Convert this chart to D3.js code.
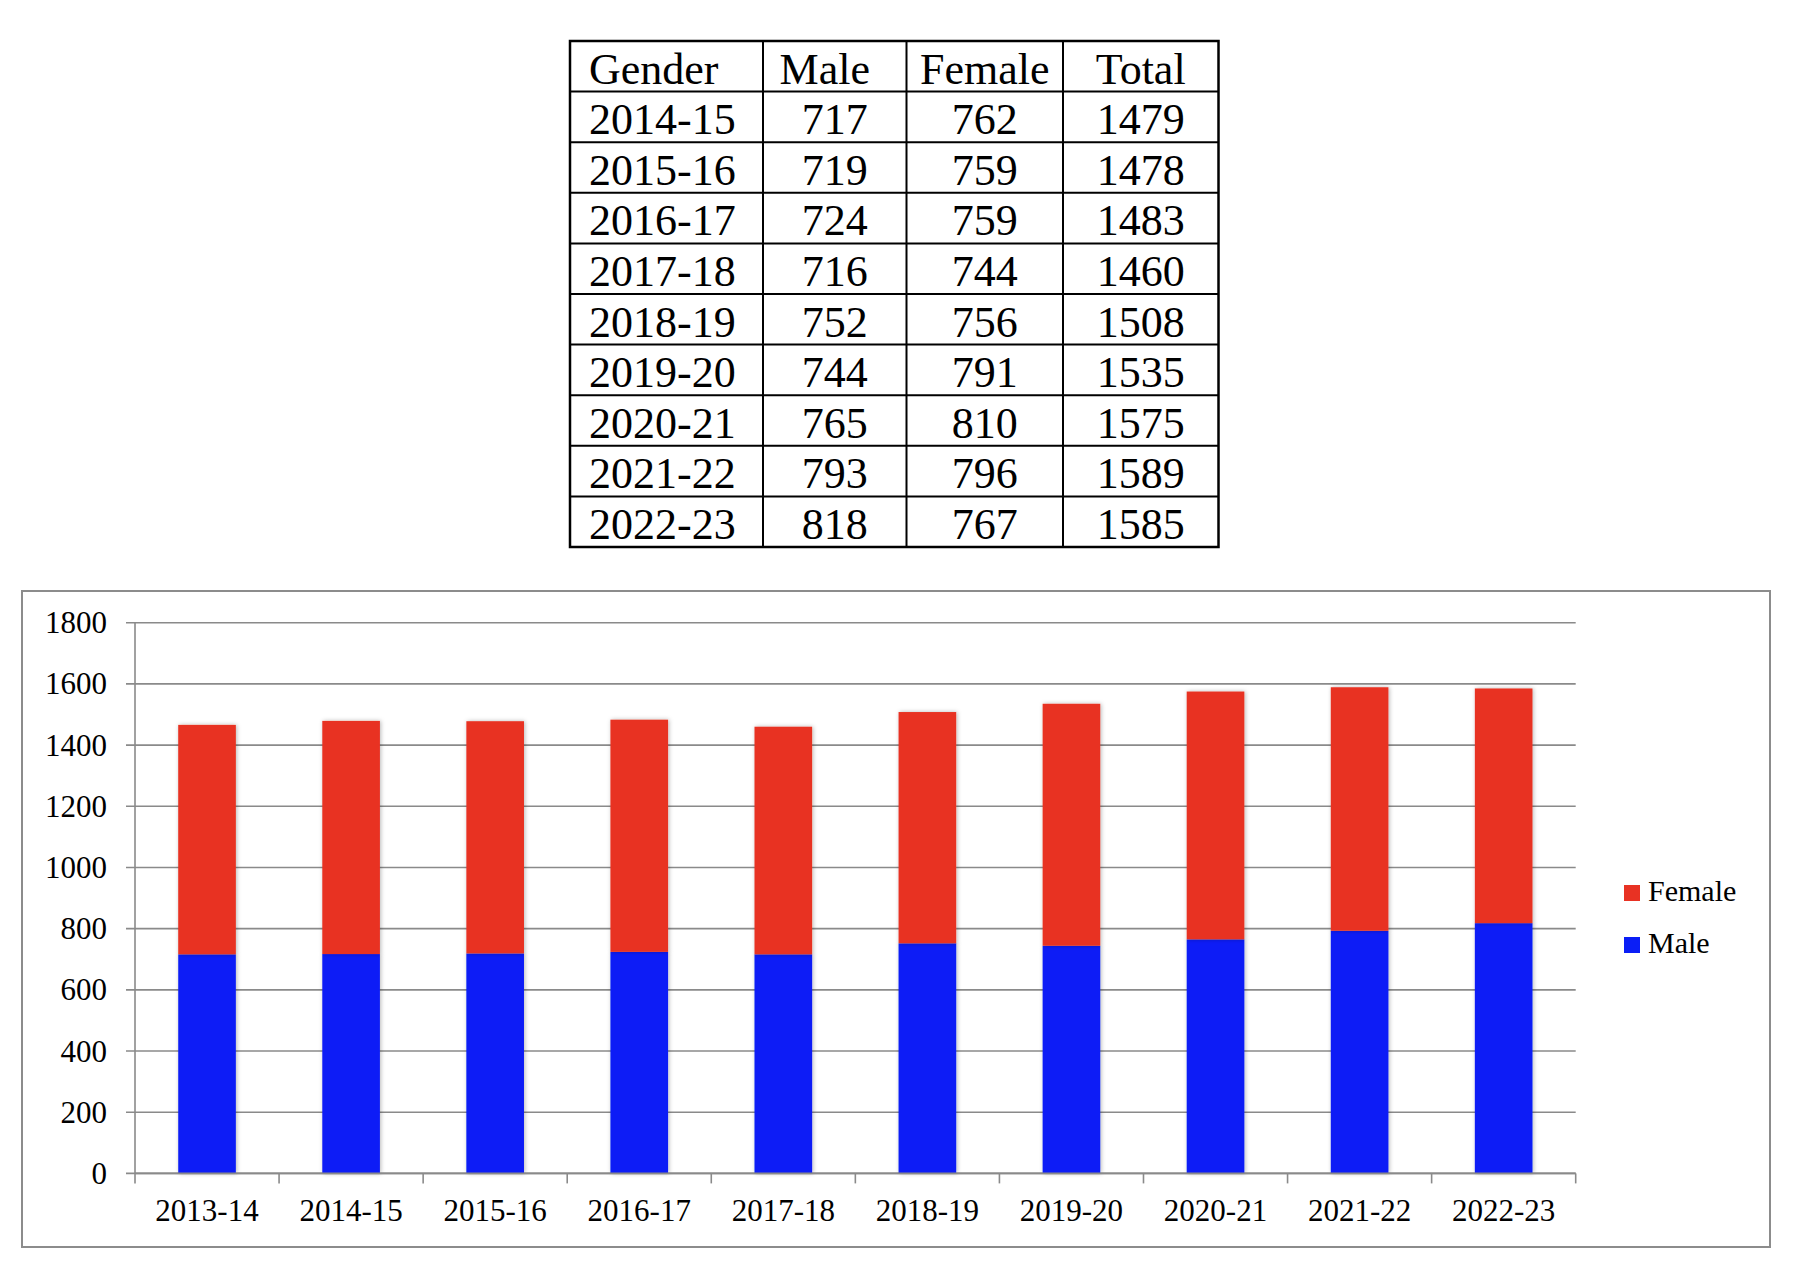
<!DOCTYPE html>
<html>
<head>
<meta charset="utf-8">
<script src="https://cdn.jsdelivr.net/npm/d3@7"></script>
<style>
  html, body { margin: 0; padding: 0; background: #fff; }
  svg { display: block; }
  text { font-family: "Liberation Serif", "DejaVu Serif", serif; fill: #000; }
</style>
</head>
<body>
<div id="chart"></div>
<script>
// 数据
const years = ['2013-14', '2014-15', '2015-16', '2016-17', '2017-18', '2018-19', '2019-20', '2020-21', '2021-22', '2022-23'];
const maleValues = [716, 717, 719, 724, 716, 752, 744, 765, 793, 818];
const femaleValues = [750, 762, 759, 759, 744, 756, 791, 810, 796, 767];
const tableHeader = ['Gender', 'Male', 'Female', 'Total'];
const tableYears = years.slice(1);
const yTicks = [0, 200, 400, 600, 800, 1000, 1200, 1400, 1600, 1800];
const seriesNames = ['Female', 'Male'];
const colors = { Male: '#0a1ef6', Female: '#e83223' };

const W = 1810, H = 1264;
const svg = d3.select('#chart').append('svg')
    .attr('width', W)
    .attr('height', H);

// 阴影
const defs = svg.append('defs');
defs.append('filter')
    .attr('id', 'shadow')
    .attr('x', '-20%').attr('y', '-5%')
    .attr('width', '140%').attr('height', '110%')
    .append('feDropShadow')
    .attr('dx', 1).attr('dy', 0)
    .attr('stdDeviation', 2.2)
    .attr('flood-color', '#000')
    .attr('flood-opacity', 0.28);

// ---------- 表格 ----------
const tableRows = tableYears.map((yr, i) => {
    const m = maleValues[i + 1], f = femaleValues[i + 1];
    return [yr, m, f, m + f];
});
const colEdges = [570, 763, 906.5, 1063, 1218.5];
const rowScale = d3.scaleBand()
    .domain(d3.range(tableRows.length + 1))
    .range([41, 547]);
const rh = rowScale.bandwidth();

const table = svg.append('g').attr('class', 'table');

// 网格线
table.selectAll('line.h')
    .data(d3.range(1, tableRows.length + 1))
    .enter().append('line')
    .attr('x1', colEdges[0]).attr('x2', colEdges[4])
    .attr('y1', d => rowScale(d)).attr('y2', d => rowScale(d))
    .attr('stroke', '#000').attr('stroke-width', 2);
table.selectAll('line.v')
    .data(colEdges.slice(1, 4))
    .enter().append('line')
    .attr('x1', d => d).attr('x2', d => d)
    .attr('y1', 41).attr('y2', 547)
    .attr('stroke', '#000').attr('stroke-width', 2);
table.append('rect')
    .attr('x', colEdges[0]).attr('y', 41)
    .attr('width', colEdges[4] - colEdges[0]).attr('height', 547 - 41)
    .attr('fill', 'none').attr('stroke', '#000').attr('stroke-width', 2.5);

const cellX = (c) => c === 0 ? colEdges[0] + 19 : (colEdges[c] + colEdges[c + 1]) / 2;
const cellAnchor = (c) => c === 0 ? 'start' : 'middle';

[tableHeader].concat(tableRows).forEach((row, r) => {
    table.selectAll(null)
        .data(row)
        .enter().append('text')
        .attr('x', (d, c) => cellX(c) + (r === 0 && c === 1 ? -10 : 0))
        .attr('y', rowScale(r) + rh * 0.84)
        .attr('text-anchor', (d, c) => cellAnchor(c))
        .attr('font-size', 44)
        .text(d => d);
});

// ---------- 图表 ----------
svg.append('rect')
    .attr('x', 22).attr('y', 591)
    .attr('width', 1770 - 22).attr('height', 1247 - 591)
    .attr('fill', '#fff')
    .attr('stroke', '#8c8c8c').attr('stroke-width', 2);

const plot = { left: 135, right: 1575.7, top: 622.7, bottom: 1173.4 };

const x = d3.scaleBand()
    .domain(years)
    .range([plot.left, plot.right])
    .paddingInner(0.6)
    .paddingOuter(0.3);

const y = d3.scaleLinear()
    .domain([0, 1800])
    .range([plot.bottom, plot.top]);

// 网格线
svg.append('g')
    .selectAll('line')
    .data(yTicks)
    .enter().append('line')
    .attr('x1', plot.left - 9).attr('x2', plot.right)
    .attr('y1', d => y(d)).attr('y2', d => y(d))
    .attr('stroke', '#8a8a8a').attr('stroke-width', 1.6);

// Y轴标签
svg.append('g')
    .selectAll('text')
    .data(yTicks)
    .enter().append('text')
    .attr('x', 107)
    .attr('y', d => y(d))
    .attr('dy', '0.34em')
    .attr('text-anchor', 'end')
    .attr('font-size', 31)
    .text(d => d);

// Y轴
svg.append('line')
    .attr('x1', plot.left).attr('x2', plot.left)
    .attr('y1', plot.top).attr('y2', plot.bottom)
    .attr('stroke', '#8a8a8a').attr('stroke-width', 1.6);

// 堆叠
const stackData = years.map((yr, i) => ({ year: yr, Male: maleValues[i], Female: femaleValues[i] }));
const stack = d3.stack().keys(['Male', 'Female'])(stackData);

svg.append('g')
    .selectAll('g')
    .data(stack)
    .enter().append('g')
    .attr('fill', d => colors[d.key])
    .selectAll('rect')
    .data(d => d)
    .enter().append('rect')
    .attr('x', d => x(d.data.year))
    .attr('y', d => y(d[1]))
    .attr('width', x.bandwidth())
    .attr('height', d => y(d[0]) - y(d[1]))
    .attr('filter', 'url(#shadow)');

// X轴
const xAxis = svg.append('g');
xAxis.append('line')
    .attr('x1', plot.left).attr('x2', plot.right)
    .attr('y1', plot.bottom).attr('y2', plot.bottom)
    .attr('stroke', '#8a8a8a').attr('stroke-width', 1.6);
const step = x.step();
xAxis.selectAll('line.tick')
    .data(d3.range(years.length + 1))
    .enter().append('line')
    .attr('x1', i => plot.left + i * step).attr('x2', i => plot.left + i * step)
    .attr('y1', plot.bottom).attr('y2', plot.bottom + 10)
    .attr('stroke', '#8a8a8a').attr('stroke-width', 1.6);
xAxis.selectAll('text')
    .data(years)
    .enter().append('text')
    .attr('x', d => x(d) + x.bandwidth() / 2)
    .attr('y', 1221)
    .attr('text-anchor', 'middle')
    .attr('font-size', 31)
    .text(d => d);

// 图例
const legend = svg.append('g');
const legendY = [885, 937];
legend.selectAll('rect')
    .data(seriesNames)
    .enter().append('rect')
    .attr('x', 1624)
    .attr('y', (d, i) => legendY[i])
    .attr('width', 16).attr('height', 16)
    .attr('fill', d => colors[d]);
legend.selectAll('text')
    .data(seriesNames)
    .enter().append('text')
    .attr('x', 1648)
    .attr('y', (d, i) => legendY[i] + 16)
    .attr('font-size', 30)
    .text(d => d);
</script>
</body>
</html>
